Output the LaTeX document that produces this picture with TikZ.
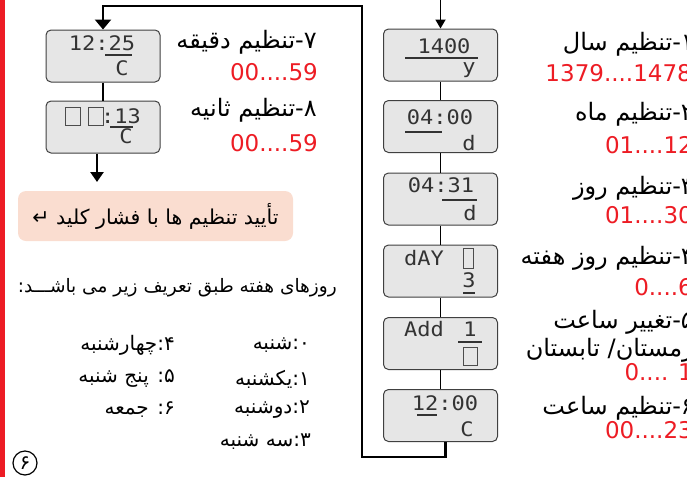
\documentclass[tikz,border=0pt]{standalone}
\usepackage{fontspec}
\usetikzlibrary{arrows.meta}
\newfontfamily\fa[Script=Arabic]{DejaVu Sans}
\newfontfamily\segfont[FakeStretch=1.1]{DejaVu Sans Mono}
\newfontfamily\rangefont{DejaVu Sans}
\TeXXeTstate=1
\definecolor{segred}{RGB}{237,28,36}
\definecolor{keypink}{RGB}{250,221,208}
\definecolor{lcdgray}{RGB}{230,230,230}

\begin{document}
\begin{tikzpicture}[x=1pt,y=-1pt,
  lcd/.style={draw=black!75,fill=lcdgray,rounded corners=5pt,line width=1pt,minimum width=114pt,minimum height=52pt,inner sep=0pt},
  seg/.style={font=\segfont\fontsize{20}{22}\selectfont,text=black!80,inner sep=0pt},
  segline/.style={draw=black!80,line width=1.1pt},
  segbox/.style={draw=black!70,line width=0.8pt},
  rng/.style={font=\rangefont\fontsize{23}{26}\selectfont,text=segred,inner sep=0pt,anchor=east},
  lbl/.style={font=\fa\fontsize{24}{27}\selectfont,inner sep=0pt,anchor=east},
  daytxt/.style={font=\fa\fontsize{20}{23}\selectfont,inner sep=0pt,anchor=east},
  link/.style={line width=1.8pt},
  loopline/.style={line width=2.8pt}]
\useasboundingbox (0,0) rectangle (687,477);
\clip (0,0) rectangle (687,477);
\fill[segred] (0,0) rectangle (5,477);

% right column
\node[lcd] (year)  at (440.5,55)    {};
\node[lcd] (month) at (440.5,126.5) {};
\node[lcd] (day)   at (440.5,199)   {};
\node[lcd] (wday)  at (440.5,271)   {};
\node[lcd] (dst)   at (440.5,343.5) {};
\node[lcd] (hour)  at (440.5,415.5) {};
% left column
\node[lcd] (minute) at (103,56)  {};
\node[lcd] (second) at (103,127) {};

% display contents
\node[seg] (yearval) at (444,46) {1400};
\draw[segline] (405,58) -- (478,58);
\node[seg] (yearunit) at (469,70) {y};
\node[seg] (monthval) at (440,117) {04:00};
\draw[segline] (405,132) -- (442,132);
\node[seg] (monthunit) at (469,143) {d};
\node[seg] (dayval) at (441,185) {04:31};
\draw[segline] (442,200) -- (477,200);
\node[seg] (dayunit) at (470,213) {d};
\node[seg] (wdayval) at (424,258) {dAY};
\draw[segbox] (463,248) rectangle (473,268);
\node[seg] (wdaynum) at (469,280) {3};
\draw[segline] (463,293) -- (475,293);
\node[seg] (dstval) at (424,329) {Add};
\node[seg] (dstnum) at (470,329) {1};
\draw[segline] (458,342) -- (482,342);
\draw[segbox] (463,347) rectangle (477,365);
\node[seg] (hourval) at (445,403) {12:00};
\draw[segline] (417,415) -- (437,415);
\node[seg] (hourunit) at (467,429) {C};
\node[seg] (minval) at (102,43) {12:25};
\draw[segline] (105,55) -- (132,55);
\node[seg] (minunit) at (122,68) {C};
\draw[segbox] (65,107) rectangle (80,125);
\draw[segbox] (88,107) rectangle (103,125);
\node[seg] (secval) at (121,116) {:13};
\draw[segline] (110,127) -- (133,127);
\node[seg] (secunit) at (126,136) {C};

% connectors
\coordinate (feed) at (440.5,0);
\draw[link,-{Triangle[width=10pt,length=9pt]}] (feed) -- (year);
\draw[link] (year) -- (month);
\draw[link] (month) -- (day);
\draw[link] (day) -- (wday);
\draw[link] (wday) -- (dst);
\draw[link] (dst) -- (hour);
\draw[link] (minute) -- (second);
\coordinate (loopA) at (362,457);
\coordinate (loopB) at (362,6);
\draw[loopline,-{Triangle[width=16pt,length=10pt]}] ([xshift=5pt]hour.south) |- (loopA) -- (loopB) -| (minute.north);
\coordinate (secout) at (97,182);
\draw[loopline,-{Triangle[width=13pt,length=10pt]}] ([xshift=-6pt]second.south) -- (secout);

% labels
\node[lbl] (minlbl) at (317,42) {\beginR ۷-تنظیم دقیقه\endR};
\node[rng] (minrng) at (318,72) {00....59};
\node[lbl] (seclbl) at (317,110) {\beginR ۸-تنظیم ثانیه\endR};
\node[rng] (secrng) at (318,143) {00....59};
\node[lbl] (yearlbl) at (694,44) {\beginR ۱-تنظیم سال\endR};
\node[rng] (yearrng) at (692,73) {1379....1478};
\node[lbl] (monthlbl) at (694,114) {\beginR ۲-تنظیم ماه\endR};
\node[rng] (monthrng) at (693,145) {01....12};
\node[lbl] (daylbl) at (694,188) {\beginR ۳-تنظیم روز\endR};
\node[rng] (dayrng) at (693,215) {01....30};
\node[lbl] (wdaylbl) at (694,258) {\beginR ۴-تنظیم روز هفته\endR};
\node[rng] (wdayrng) at (693,287) {0....6};
\node[lbl] (dstlbl) at (694,322) {\beginR ۵-تغییر ساعت\endR};
\node[lbl] (dstlbl2) at (694,350) {\beginR زمستان/ تابستان\endR};
\node[rng] (dstrng) at (693,372) {0.... 1};
\node[lbl] (hourlbl) at (694,408) {\beginR ۶-تنظیم ساعت\endR};
\node[rng] (hourrng) at (693,430) {00....23};

% confirm key and weekday list
\node[fill=keypink,rounded corners=8pt,minimum width=275pt,minimum height=50pt,font=\fa\fontsize{20.5}{23}\selectfont] (confirm) at (155.5,216) {\beginR تأیید تنظیم ها با فشار کلید ↵\endR};
\node[daytxt,font=\fa\fontsize{18.5}{21}\selectfont] (weekhead) at (337,288) {\beginR روزهای هفته طبق تعریف زیر می باشـــد:\endR};
\node[daytxt] (d0) at (310,345) {\beginR ۰:شنبه\endR};
\node[daytxt] (d1) at (310,379) {\beginR ۱:یکشنبه\endR};
\node[daytxt] (d2) at (310,410) {\beginR ۲:دوشنبه\endR};
\node[daytxt] (d3) at (311,442) {\beginR ۳:سه شنبه\endR};
\node[daytxt] (d4) at (175,345) {\beginR ۴:چهارشنبه\endR};
\node[daytxt] (d5) at (175,379) {\beginR ۵: پنج شنبه\endR};
\node[daytxt] (d6) at (175,410) {\beginR ۶: جمعه\endR};
\node[circle,draw,line width=1.2pt,minimum size=24pt,inner sep=0pt,font=\fa\fontsize{20}{22}\selectfont] (page) at (25,463) {۶};
\end{tikzpicture}
\end{document}
